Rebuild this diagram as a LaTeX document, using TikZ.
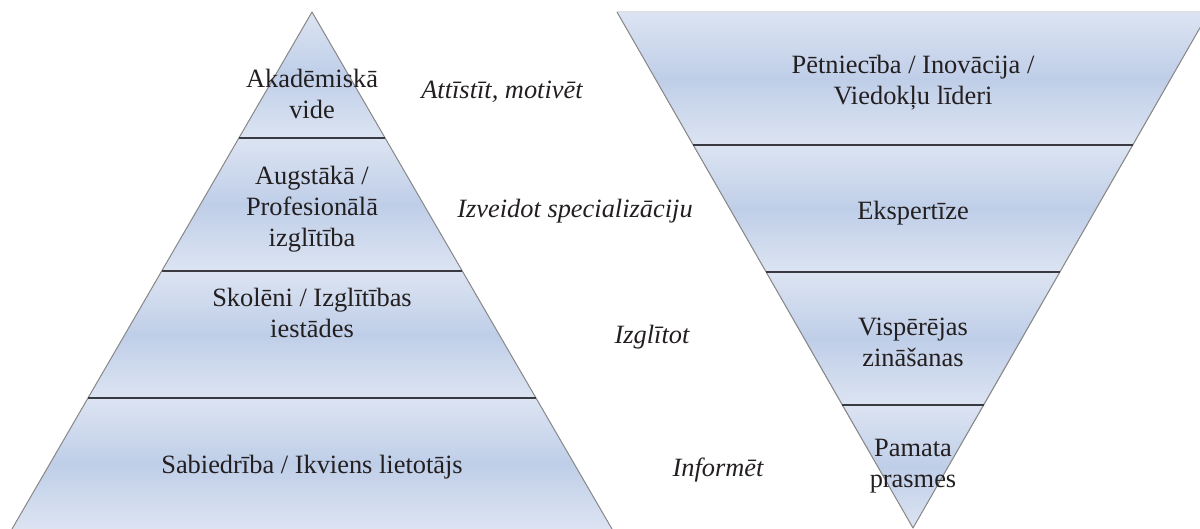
\documentclass[tikz,border=0pt]{standalone}
\usepackage{fontspec}
\setmainfont{Liberation Serif}
\definecolor{layerlight}{HTML}{DCE4F2}
\definecolor{layermid}{HTML}{BFCEE8}
\definecolor{edgegray}{HTML}{8A8A8A}
\definecolor{sepgray}{HTML}{3A3A42}
\definecolor{textgray}{HTML}{231F20}

\begin{document}
\begin{tikzpicture}[x=0.5pt, y=-0.5pt,
    layer/.style={top color=layerlight, bottom color=layerlight, middle color=layermid},
    side/.style={draw=edgegray, line width=0.5pt, line join=round},
    divider/.style={draw=sepgray, line width=1pt},
    label/.style={text=textgray, align=center, inner sep=0pt,
        font=\fontsize{13.2}{15.5}\selectfont},
    action/.style={text=textgray, inner sep=0pt,
        font=\fontsize{13.2}{15.5}\selectfont\itshape}
]
    \useasboundingbox (0,0) rectangle (1200,529);
    \clip (0,0) rectangle (1200,529);

    \fill[layer] (312,12) -- (385,138) -- (239,138) -- cycle;
    \fill[layer] (239,138) -- (385,138) -- (462,271) -- (162,271) -- cycle;
    \fill[layer] (162,271) -- (462,271) -- (536,398) -- (88,398) -- cycle;
    \fill[layer] (88,398) -- (536,398) -- (612,529) -- (12,529) -- cycle;
    \draw[side] (12,529) -- (312,12) -- (612,529);
    \draw[divider] (239,138) -- (385,138);
    \draw[divider] (162,271) -- (462,271);
    \draw[divider] (88,398) -- (536,398);

    \fill[layer] (617,12) -- (1209,12) -- (1133,145) -- (693,145) -- cycle;
    \fill[layer] (693,145) -- (1133,145) -- (1060,272) -- (766,272) -- cycle;
    \fill[layer] (766,272) -- (1060,272) -- (984,405) -- (842,405) -- cycle;
    \fill[layer] (842,405) -- (984,405) -- (913,528) -- cycle;
    \draw[side] (617,12) -- (913,528) -- (1209,12);
    \draw[divider] (693,145) -- (1133,145);
    \draw[divider] (766,272) -- (1060,272);
    \draw[divider] (842,405) -- (984,405);

    \node[label] (academic) at (312,94) {Akadēmiskā\\vide};
    \node[label] (higher) at (312,209) {Augstākā /\\Profesionālā\\izglītība};
    \node[label] (pupils) at (312,313) {Skolēni / Izglītības\\iestādes};
    \node[label] (society) at (312,467) {Sabiedrība / Ikviens lietotājs};

    \node[action] (develop) at (502,92) {Attīstīt, motivēt};
    \node[action] (specialize) at (575,211) {Izveidot specializāciju};
    \node[action] (educate) at (652,337) {Izglītot};
    \node[action] (inform) at (718,470) {Informēt};

    \node[label] (research) at (913,83) {Pētniecība / Inovācija /\\Viedokļu līderi};
    \node[label] (expertise) at (913,213) {Ekspertīze};
    \node[label] (general) at (913,342) {Vispērējas\\zināšanas};
    \node[label] (basic) at (913,466) {Pamata\\prasmes};
\end{tikzpicture}
\end{document}
